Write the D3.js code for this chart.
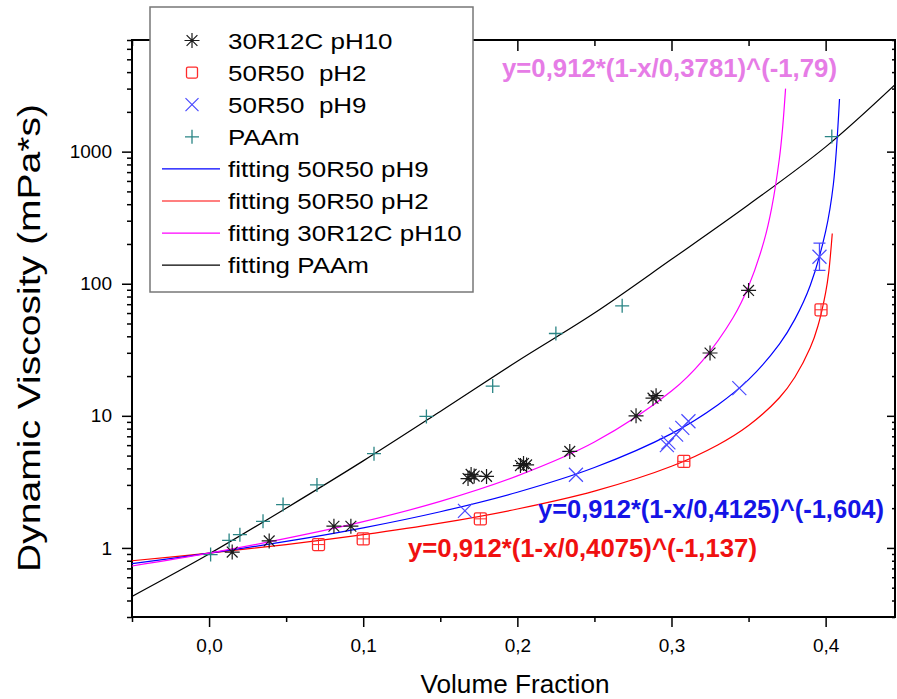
<!DOCTYPE html>
<html>
<head>
<meta charset="utf-8">
<script src="https://cdn.jsdelivr.net/npm/d3@7"></script>
<style>
  body { margin: 0; background: #fff; }
  text { font-family: "Liberation Sans", Arial, sans-serif; }
</style>
</head>
<body>
<div id="chart"></div>
<script>
var width = 897;
var height = 699;

// measured points
var paamX = [0.001, 0.013, 0.020, 0.035, 0.048, 0.070, 0.107, 0.141, 0.184, 0.225, 0.268, 0.404];
var paamY = [0.89, 1.14, 1.26, 1.59, 2.13, 3.0, 5.17, 9.9, 16.8, 42, 68, 1300];

var r12cX = [0.015, 0.039, 0.081, 0.092, 0.168, 0.170, 0.172, 0.180, 0.202, 0.204, 0.206, 0.234, 0.277, 0.288, 0.290, 0.325, 0.350];
var r12cY = [0.93, 1.13, 1.46, 1.46, 3.35, 3.6, 3.5, 3.48, 4.2, 4.35, 4.25, 5.38, 10.0, 13.6, 14.2, 29.9, 89];

var ph2X = [0.071, 0.100, 0.176, 0.308, 0.397];
var ph2Y = [1.06, 1.17, 1.66, 4.52, 63.5];

var ph9X = [0.166, 0.238, 0.297, 0.298, 0.303, 0.307, 0.311, 0.344, 0.396];
var ph9Y = [1.91, 3.58, 6.0, 6.3, 7.2, 8.1, 9.1, 16.2, 160];
var ph9ErrLo = [null, null, null, null, null, null, null, null, 126];
var ph9ErrHi = [null, null, null, null, null, null, null, null, 203];

// fitted curves
var fitPinkX = [-0.05, 0, 0.05, 0.1, 0.15, 0.2, 0.25, 0.3, 0.32, 0.34, 0.35, 0.36, 0.365, 0.37, 0.372, 0.374];
var fitPinkY = [0.73, 0.912, 1.18, 1.58, 2.25, 3.51, 6.33, 15.4, 26.1, 55.5, 95.7, 210, 375, 887, 1473, 3000];

var fitBlueX = [-0.05, 0, 0.05, 0.1, 0.15, 0.2, 0.25, 0.3, 0.33, 0.35, 0.37, 0.38, 0.39, 0.40, 0.405, 0.409];
var fitBlueY = [0.76, 0.912, 1.12, 1.42, 1.88, 2.64, 4.06, 7.33, 12.1, 18.8, 34.9, 53.7, 96.9, 249, 564, 2500];

var fitRedX = [-0.05, 0, 0.05, 0.1, 0.15, 0.2, 0.25, 0.3, 0.33, 0.35, 0.37, 0.38, 0.39, 0.395, 0.40, 0.402, 0.4043];
var fitRedY = [0.80, 0.912, 1.06, 1.26, 1.54, 1.97, 2.69, 4.15, 6.02, 8.45, 13.7, 19.6, 32.7, 47.9, 85.7, 122, 240];

var fitPaamX = [-0.05, 0, 0.05, 0.1, 0.15, 0.2, 0.25, 0.3, 0.35, 0.4, 0.445];
var fitPaamY = [0.43, 0.90, 2.0, 4.56, 10.8, 25.9, 60, 153, 396, 1086, 3214];

var xMajor = [0, 0.1, 0.2, 0.3, 0.4];
var xMinor = [-0.05, 0.05, 0.15, 0.25, 0.35];
var yMajor = [1, 10, 100, 1000];

var legendNames = ["30R12C pH10", "50R50  pH2", "50R50  pH9", "PAAm",
                   "fitting 50R50 pH9", "fitting 50R50 pH2", "fitting 30R12C pH10", "fitting PAAm"];

var eqPink = "y=0,912*(1-x/0,3781)^(-1,79)";
var eqBlue = "y=0,912*(1-x/0,4125)^(-1,604)";
var eqRed = "y=0,912*(1-x/0,4075)^(-1,137)";

var plot = { left: 132, right: 895, top: 40, bottom: 617 };

var svg = d3.select("#chart")
            .append("svg")
            .attr("width", width)
            .attr("height", height)
            .style("background-color", "#fff");

var xScale = d3.scaleLinear()
                .domain([-0.05, 0.445])
                .range([plot.left, plot.right]);

var yScale = d3.scaleLog()
                .domain([0.3, 7000])
                .range([plot.bottom, plot.top]);

var yMinor = [];
[0.1, 1, 10, 100, 1000].forEach(function (dec) {
    for (var k = 2; k <= 9; k++) {
        var v = dec * k;
        if (v >= 0.3 && v <= 7000) yMinor.push(v);
    }
});

var fmt = function (d) { return d3.format(".1f")(d).replace(".", ","); };

function styleAxis(g) {
    g.select(".domain").remove();
    g.selectAll("line").attr("stroke", "#000").attr("stroke-width", 1.5);
    g.selectAll("text").attr("font-size", 19).attr("fill", "#000")
        .attr("font-family", "'Liberation Sans', Arial, sans-serif");
}

// bottom
svg.append("g").attr("transform", `translate(0, ${plot.bottom})`)
    .call(d3.axisBottom(xScale).tickValues(xMajor).tickSize(10).tickSizeOuter(0).tickPadding(12).tickFormat(fmt))
    .call(styleAxis);
svg.append("g").attr("transform", `translate(0, ${plot.bottom})`)
    .call(d3.axisBottom(xScale).tickValues(xMinor).tickSize(5).tickSizeOuter(0).tickFormat(""))
    .call(styleAxis);
// top (inward)
svg.append("g").attr("transform", `translate(0, ${plot.top})`)
    .call(d3.axisTop(xScale).tickValues(xMajor).tickSize(-11).tickSizeOuter(0).tickFormat(""))
    .call(styleAxis);
svg.append("g").attr("transform", `translate(0, ${plot.top})`)
    .call(d3.axisTop(xScale).tickValues(xMinor).tickSize(-6).tickSizeOuter(0).tickFormat(""))
    .call(styleAxis);
// left
svg.append("g").attr("transform", `translate(${plot.left}, 0)`)
    .call(d3.axisLeft(yScale).tickValues(yMajor).tickSize(10).tickSizeOuter(0).tickPadding(10).tickFormat(d3.format("d")))
    .call(styleAxis);
svg.append("g").attr("transform", `translate(${plot.left}, 0)`)
    .call(d3.axisLeft(yScale).tickValues(yMinor).tickSize(5).tickSizeOuter(0).tickFormat(""))
    .call(styleAxis);
// right (inward)
svg.append("g").attr("transform", `translate(${plot.right}, 0)`)
    .call(d3.axisRight(yScale).tickValues(yMajor).tickSize(-8).tickSizeOuter(0).tickFormat(""))
    .call(styleAxis);
svg.append("g").attr("transform", `translate(${plot.right}, 0)`)
    .call(d3.axisRight(yScale).tickValues(yMinor).tickSize(-3).tickSizeOuter(0).tickFormat(""))
    .call(styleAxis);

// frame
svg.append("rect")
    .attr("x", plot.left)
    .attr("y", plot.top)
    .attr("width", plot.right - plot.left)
    .attr("height", plot.bottom - plot.top)
    .attr("fill", "none")
    .attr("stroke", "#000")
    .attr("stroke-width", 2);

// axis titles
svg.append("text")
    .attr("x", 515)
    .attr("y", 693)
    .attr("text-anchor", "middle")
    .attr("font-size", 25)
    .attr("textLength", 189)
    .attr("lengthAdjust", "spacingAndGlyphs")
    .text("Volume Fraction");

svg.append("text")
    .attr("transform", "translate(40, 338) rotate(-90)")
    .attr("text-anchor", "middle")
    .attr("font-size", 32)
    .attr("textLength", 468)
    .attr("lengthAdjust", "spacingAndGlyphs")
    .text("Dynamic Viscosity (mPa*s)");

// fitted lines
var clip = svg.append("clipPath").attr("id", "plotclip")
    .append("rect")
    .attr("x", plot.left).attr("y", plot.top)
    .attr("width", plot.right - plot.left).attr("height", plot.bottom - plot.top);

var line = d3.line()
    .x(d => xScale(d[0]))
    .y(d => yScale(d[1]))
    .curve(d3.curveCatmullRom);

function drawFit(xs, ys, color) {
    svg.append("path")
        .datum(d3.zip(xs, ys))
        .attr("clip-path", "url(#plotclip)")
        .attr("fill", "none")
        .attr("stroke", color)
        .attr("stroke-width", 1.2)
        .attr("d", line);
}

drawFit(fitPaamX, fitPaamY, "#000");
drawFit(fitRedX, fitRedY, "#ff0000");
drawFit(fitBlueX, fitBlueY, "#0000ff");
drawFit(fitPinkX, fitPinkY, "#ff00ff");

// marker shapes
function asterisk(g, cx, cy, s, color) {
    var r = s / 2;
    var d = r * 0.72;
    g.append("path")
        .attr("d", `M${cx - r},${cy}H${cx + r}M${cx},${cy - r}V${cy + r}M${cx - d},${cy - d}L${cx + d},${cy + d}M${cx - d},${cy + d}L${cx + d},${cy - d}`)
        .attr("stroke", color).attr("stroke-width", 1.2).attr("fill", "none");
}
function cross(g, cx, cy, s, color) {
    var r = s / 2;
    g.append("path")
        .attr("d", `M${cx - r},${cy - r}L${cx + r},${cy + r}M${cx - r},${cy + r}L${cx + r},${cy - r}`)
        .attr("stroke", color).attr("stroke-width", 1.2).attr("fill", "none");
}
function plus(g, cx, cy, s, color) {
    var r = s / 2;
    g.append("path")
        .attr("d", `M${cx - r},${cy}H${cx + r}M${cx},${cy - r}V${cy + r}`)
        .attr("stroke", color).attr("stroke-width", 1.3).attr("fill", "none");
}
function square(g, cx, cy, s, color, inner) {
    var r = s / 2;
    g.append("rect")
        .attr("x", cx - r).attr("y", cy - r)
        .attr("width", s).attr("height", s)
        .attr("rx", 1.5)
        .attr("fill", "none").attr("stroke", color).attr("stroke-width", 1.3);
    if (inner) {
        g.append("path")
            .attr("d", `M${cx - r},${cy}H${cx + r}M${cx},${cy - r}V${cy + r}`)
            .attr("stroke", color).attr("stroke-width", 1).attr("fill", "none");
    }
}

var pts = svg.append("g");

paamX.forEach(function (x, i) {
    plus(pts, xScale(x), yScale(paamY[i]), 14, "#2a8585");
});
ph2X.forEach(function (x, i) {
    square(pts, xScale(x), yScale(ph2Y[i]), 12, "#ff2a2a", true);
});
ph9X.forEach(function (x, i) {
    var cx = xScale(x), cy = yScale(ph9Y[i]);
    if (ph9ErrLo[i] != null) {
        var y1 = yScale(ph9ErrLo[i]), y2 = yScale(ph9ErrHi[i]);
        pts.append("path")
            .attr("d", `M${cx},${y1}V${y2}M${cx - 6},${y1}H${cx + 6}M${cx - 6},${y2}H${cx + 6}`)
            .attr("stroke", "#4a4aff").attr("stroke-width", 1.3).attr("fill", "none");
    }
    cross(pts, cx, cy, 14, "#4a4aff");
});
r12cX.forEach(function (x, i) {
    asterisk(pts, xScale(x), yScale(r12cY[i]), 15, "#1a1a1a");
});

// equations
svg.append("text")
    .attr("x", 502).attr("y", 77)
    .attr("font-size", 25).attr("font-weight", "bold")
    .attr("fill", "#e67ce6")
    .attr("textLength", 335).attr("lengthAdjust", "spacingAndGlyphs")
    .text(eqPink);
svg.append("text")
    .attr("x", 538).attr("y", 518)
    .attr("font-size", 25).attr("font-weight", "bold")
    .attr("fill", "#1414e6")
    .attr("textLength", 346).attr("lengthAdjust", "spacingAndGlyphs")
    .text(eqBlue);
svg.append("text")
    .attr("x", 408).attr("y", 557)
    .attr("font-size", 25).attr("font-weight", "bold")
    .attr("fill", "#f01010")
    .attr("textLength", 349).attr("lengthAdjust", "spacingAndGlyphs")
    .text(eqRed);

// legend
var legend = svg.append("g");
legend.append("rect")
    .attr("x", 150).attr("y", 7)
    .attr("width", 323).attr("height", 285)
    .attr("fill", "#fff")
    .attr("stroke", "#777")
    .attr("stroke-width", 1.5);

var rowY = d3.range(legendNames.length).map(i => 40.5 + i * 32.1);
var legendLineColors = ["#0000ff", "#ff0000", "#ff00ff", "#000"];

asterisk(legend, 192, rowY[0], 15, "#1a1a1a");
square(legend, 192, rowY[1], 11, "#ff2a2a", false);
cross(legend, 192, rowY[2], 13, "#4a4aff");
plus(legend, 192, rowY[3], 14, "#2a8585");

legendLineColors.forEach(function (c, i) {
    legend.append("line")
        .attr("x1", 162).attr("x2", 220)
        .attr("y1", rowY[i + 4]).attr("y2", rowY[i + 4])
        .attr("stroke", c).attr("stroke-width", 1.2);
});

legend.selectAll("text.leg")
    .data(legendNames)
    .enter()
    .append("text")
    .attr("class", "leg")
    .attr("x", 228)
    .attr("y", (d, i) => rowY[i] + 8)
    .attr("font-size", 22)
    .style("white-space", "pre")
    .text(d => d)
    .each(function () {
        var w = this.getComputedTextLength();
        d3.select(this).attr("textLength", w * 1.18).attr("lengthAdjust", "spacingAndGlyphs");
    });
</script>
</body>
</html>
